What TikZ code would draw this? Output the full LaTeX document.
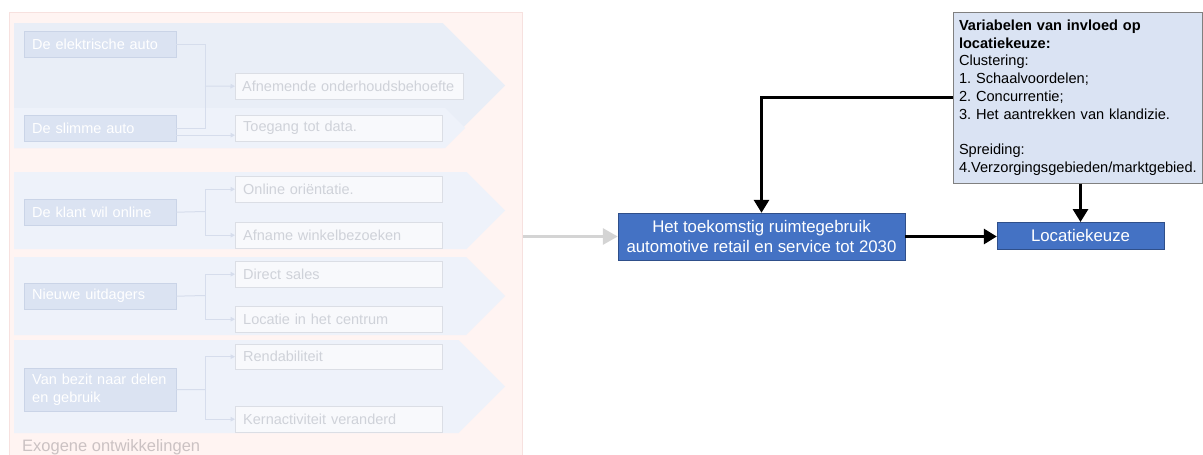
\documentclass[tikz,border=0pt]{standalone}
\usepackage{fontspec}
\setmainfont{Liberation Sans}
\usepackage{xcolor}
\usetikzlibrary{arrows.meta, positioning}
\definecolor{exofill}{HTML}{FFF4F2}
\definecolor{exoline}{HTML}{F7E1DF}
\definecolor{exotext}{HTML}{CBC2C3}
\definecolor{chevdark}{HTML}{E9EEF7}
\definecolor{chevlight}{HTML}{EEF2FA}
\definecolor{causefill}{HTML}{DBE3F2}
\definecolor{causeline}{HTML}{CAD4E7}
\definecolor{effectfill}{HTML}{F8F9FC}
\definecolor{effectline}{HTML}{DBDEE5}
\definecolor{effecttext}{HTML}{CFD2D9}
\definecolor{faintlink}{HTML}{D6DDEC}
\definecolor{mainblue}{HTML}{4472C4}
\definecolor{mainline}{HTML}{2F4F8A}
\definecolor{varfill}{HTML}{DAE3F3}
\definecolor{grayarrow}{HTML}{D4D4D4}
\frenchspacing

\begin{document}
\begin{tikzpicture}[x=1pt, y=-1pt,
    cause/.style={draw=causeline, fill=causefill, text=white, anchor=north west, align=left,
      text width=136pt, minimum height=26pt, inner xsep=8pt, inner ysep=2pt,
      font=\fontsize{14.5}{18}\selectfont},
    effect/.style={draw=effectline, fill=effectfill, text=effecttext, anchor=north west, align=left,
      text width=191pt, minimum height=26pt, inner xsep=8pt, inner ysep=2pt,
      font=\fontsize{14.5}{18}\selectfont},
    link/.style={draw=faintlink, line width=1pt},
    linkarr/.style={link, -{Triangle[length=4.5pt, width=4.5pt]}},
    mainbox/.style={draw=mainline, fill=mainblue, text=white, align=center, inner sep=2pt,
      font=\fontsize{16.8}{20}\selectfont},
    arr/.style={-{Triangle[length=13pt, width=15pt]}, line width=3pt},
    grayarr/.style={-{Triangle[length=15pt, width=16pt]}, line width=3pt, draw=grayarrow}
  ]
  \useasboundingbox (0,0) rectangle (1203,455);

  % exogene ontwikkelingen
  \node[draw=exoline, fill=exofill, line width=1pt, anchor=north west,
    minimum width=513pt, minimum height=470pt, inner sep=0pt] (exo) at (9,12) {};
  \node[anchor=base west, text=exotext, inner sep=0pt,
    font=\fontsize{16.5}{20}\selectfont] (exolabel) at (22,451) {Exogene ontwikkelingen};

  % chevrons
  \fill[chevdark] (14,23) -- (442.5,23) -- (505,85.5) -- (442.5,148) -- (14,148) -- cycle;
  \fill[chevlight] (14,108) -- (445,108) -- (465,128) -- (445,148) -- (14,148) -- cycle;
  \fill[chevlight] (14,172) -- (466.5,172) -- (505,210.5) -- (466.5,249) -- (14,249) -- cycle;
  \fill[chevlight] (14,257) -- (466,257) -- (505,296) -- (466,335) -- (14,335) -- cycle;
  \fill[chevlight] (14,340) -- (458.5,340) -- (505,386.5) -- (458.5,433) -- (14,433) -- cycle;

  % oorzaken
  \node[cause] (elek) at (24,31) {De elektrische auto};
  \node[cause] (slim) at (24,115) {De slimme auto};
  \node[cause] (klant) at (24,199) {De klant wil online};
  \node[cause] (uitd) at (24,283) {Nieuwe uitdagers};
  \node[cause, minimum height=43pt] (delen) at (24,368) {Van bezit naar delen\\en gebruik};

  % gevolgen
  \node[effect, text width=214pt, inner xsep=7pt] (afn) at (235,73) {Afnemende onderhoudsbehoefte};
  \node[effect] (toeg) at (235,115) {Toegang tot data.};
  \node[effect] (onl) at (235,176) {Online oriëntatie.};
  \node[effect] (afna) at (235,222) {Afname winkelbezoeken};
  \node[effect] (direct) at (235,261) {Direct sales};
  \node[effect] (centrum) at (235,306) {Locatie in het centrum};
  \node[effect, minimum height=25pt] (rend) at (235,344) {Rendabiliteit};
  \node[effect] (kern) at (235,406) {Kernactiviteit veranderd};

  % verbindingen
  \coordinate (j1) at (205,86);
  \coordinate (j2) at (205,211.5);
  \coordinate (j3) at (205,295.5);
  \coordinate (j4) at (205,389.5);
  \draw[link] (elek.east) -| (j1);
  \draw[link] (slim.east) -| (j1);
  \draw[linkarr] (j1) -- (afn.west);
  \draw[linkarr] ([yshift=-7pt]slim.east) -- ([yshift=-7pt]slim.east -| toeg.west);
  \draw[link] (klant.east) -- (j2);
  \draw[linkarr] (j2) |- (onl.west);
  \draw[linkarr] (j2) |- (afna.west);
  \draw[link] (uitd.east) -- (j3);
  \draw[linkarr] (j3) |- (direct.west);
  \draw[linkarr] (j3) |- (centrum.west);
  \draw[link] (delen.east) -- (j4);
  \draw[linkarr] (j4) |- (rend.west);
  \draw[linkarr] (j4) |- (kern.west);

  % ruimtegebruik en locatiekeuze
  \node[mainbox, minimum width=287pt, minimum height=47pt] (het) at (761.5,236.5)
    {Het toekomstig ruimtegebruik\\automotive retail en service tot 2030};
  \node[mainbox, minimum width=167pt, minimum height=26.5pt] (keuze) at (1080.5,235.5) {Locatiekeuze};
  \node[draw=gray, fill=varfill, line width=1pt, align=left, text width=237pt, inner sep=6pt,
    minimum height=171pt, font=\fontsize{14.6}{17.75}\selectfont] (var) at (1077.5,97.5)
    {\textbf{Variabelen van invloed op}\\\textbf{locatiekeuze:}\\Clustering:\\1. Schaalvoordelen;\\2. Concurrentie;\\3. Het aantrekken van klandizie.\\[17.75pt]Spreiding:\\4.Verzorgingsgebieden/marktgebied.};

  \draw[grayarr] (exo.east |- het) -- (het.west);
  \draw[arr] (var.west) -| (het.north);
  \draw[arr] (var.south -| keuze.north) -- (keuze.north);
  \draw[arr] (het.east) -- (het.east -| keuze.west);
\end{tikzpicture}
\end{document}
